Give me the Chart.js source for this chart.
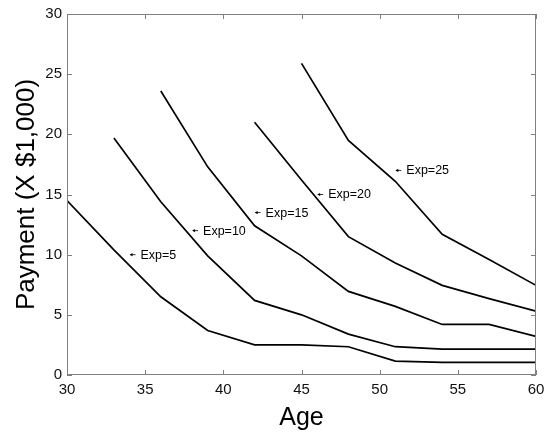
<!DOCTYPE html>
<html>
<head>
<meta charset="utf-8">
<script src="https://cdn.jsdelivr.net/npm/chart.js@4"></script>
<style>
  body { margin: 0; background: #fff; }
  #wrap { width: 553px; height: 436px; position: relative; }
</style>
</head>
<body>
<div id="wrap"><canvas id="payChart"></canvas></div>
<script>
// ages (x)
const exp5Ages = [30, 33, 36, 39, 42, 45, 48, 51, 54, 57, 60];
const exp5Pay = [14.5, 10.4, 6.5, 3.7, 2.5, 2.5, 2.35, 1.15, 1.05, 1.05, 1.05];

const exp10Ages = [33, 36, 39, 42, 45, 48, 51, 54, 57, 60];
const exp10Pay = [19.7, 14.4, 9.9, 6.2, 5.0, 3.4, 2.35, 2.15, 2.15, 2.15];

const exp15Ages = [36, 39, 42, 45, 48, 51, 54, 57, 60];
const exp15Pay = [23.6, 17.3, 12.4, 9.9, 6.95, 5.7, 4.2, 4.2, 3.2];

const exp20Ages = [42, 45, 48, 51, 54, 57, 60];
const exp20Pay = [21.0, 16.2, 11.5, 9.3, 7.45, 6.35, 5.3];

const exp25Ages = [45, 48, 51, 54, 57, 60];
const exp25Pay = [25.9, 19.5, 16.1, 11.7, 9.6, 7.45];

// text labels and where their arrows point
const noteLabels = ['Exp=5', 'Exp=10', 'Exp=15', 'Exp=20', 'Exp=25'];
const noteAges = [34, 38, 42, 46, 51];
const notePay = [10, 12, 13.5, 15, 17];

const xTicks = [30, 35, 40, 45, 50, 55, 60];
const yTicks = [0, 5, 10, 15, 20, 25, 30];

const toPoints = (xs, ys) => xs.map((x, i) => ({ x: x, y: ys[i] }));

const lineSet = (xs, ys) => ({
    data: toPoints(xs, ys),
    borderColor: '#000',
    borderWidth: 1.7,
    pointRadius: 0,
    fill: false,
    tension: 0
});

const axisColor = '#808080';

// box round the plot with inward ticks on all four sides
const boxPlugin = {
    id: 'box',
    afterDatasetsDraw(chart) {
        const { ctx, chartArea: a, scales } = chart;
        const tl = 5;
        ctx.save();
        ctx.strokeStyle = axisColor;
        ctx.lineWidth = 1;
        ctx.strokeRect(a.left + 0.5, a.top + 0.5, a.right - a.left - 1, a.bottom - a.top - 1);
        ctx.beginPath();
        xTicks.forEach(v => {
            const px = Math.round(scales.x.getPixelForValue(v)) + 0.5;
            ctx.moveTo(px, a.bottom);
            ctx.lineTo(px, a.bottom - tl);
            ctx.moveTo(px, a.top);
            ctx.lineTo(px, a.top + tl);
        });
        yTicks.forEach(v => {
            const py = Math.round(scales.y.getPixelForValue(v)) + 0.5;
            ctx.moveTo(a.left, py);
            ctx.lineTo(a.left + tl, py);
            ctx.moveTo(a.right, py);
            ctx.lineTo(a.right - tl, py);
        });
        ctx.stroke();

        // annotations: small left arrow then the text
        ctx.fillStyle = '#000';
        ctx.strokeStyle = '#000';
        ctx.font = '12.5px "Liberation Sans", Arial, sans-serif';
        ctx.textBaseline = 'middle';
        ctx.textAlign = 'left';
        noteLabels.forEach((txt, i) => {
            const px = scales.x.getPixelForValue(noteAges[i]);
            const py = scales.y.getPixelForValue(notePay[i]);
            ctx.beginPath();
            ctx.moveTo(px + 1, py);
            ctx.lineTo(px + 6, py);
            ctx.lineWidth = 0.8;
            ctx.stroke();
            ctx.beginPath();
            ctx.moveTo(px, py);
            ctx.lineTo(px + 3, py - 1.6);
            ctx.lineTo(px + 3, py + 1.6);
            ctx.closePath();
            ctx.fill();
            ctx.fillText(txt, px + 11, py + 0.5);
        });
        ctx.restore();
    }
};

const ctx = document.getElementById('payChart').getContext('2d');
new Chart(ctx, {
    type: 'line',
    data: {
        datasets: [
            lineSet(exp5Ages, exp5Pay),
            lineSet(exp10Ages, exp10Pay),
            lineSet(exp15Ages, exp15Pay),
            lineSet(exp20Ages, exp20Pay),
            lineSet(exp25Ages, exp25Pay)
        ]
    },
    options: {
        responsive: true,
        maintainAspectRatio: false,
        animation: false,
        layout: { padding: { top: 12, right: 17, bottom: 0, left: 0 } },
        plugins: {
            legend: { display: false },
            tooltip: { enabled: false }
        },
        scales: {
            x: {
                type: 'linear',
                min: 30,
                max: 60,
                afterBuildTicks: s => { s.ticks = xTicks.map(v => ({ value: v })); },
                afterFit: s => { s.height = 61; },
                grid: { display: false, drawTicks: false },
                border: { display: false },
                ticks: {
                    padding: 6,
                    color: '#111',
                    font: { family: '"Liberation Sans", Arial, sans-serif', size: 15 }
                },
                title: {
                    display: true,
                    text: 'Age',
                    color: '#000',
                    padding: { top: 0, bottom: 3 },
                    font: { family: '"Liberation Sans", Arial, sans-serif', size: 25, lineHeight: 1.2 }
                }
            },
            y: {
                type: 'linear',
                min: 0,
                max: 30,
                afterBuildTicks: s => { s.ticks = yTicks.map(v => ({ value: v })); },
                afterFit: s => { s.width = 67; },
                grid: { display: false, drawTicks: false },
                border: { display: false },
                ticks: {
                    padding: 5,
                    color: '#111',
                    font: { family: '"Liberation Sans", Arial, sans-serif', size: 15 }
                },
                title: {
                    display: true,
                    text: 'Payment (X $1,000)',
                    color: '#000',
                    padding: { top: 11, bottom: 0 },
                    font: { family: '"Liberation Sans", Arial, sans-serif', size: 26, lineHeight: 1.2 }
                }
            }
        }
    },
    plugins: [boxPlugin]
});
</script>
</body>
</html>
